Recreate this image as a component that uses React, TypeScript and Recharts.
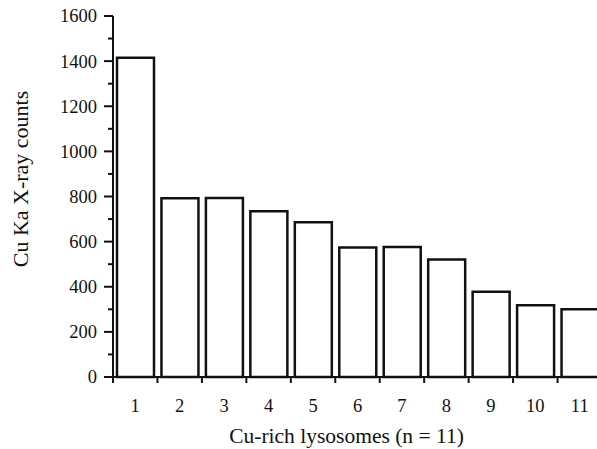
import React from 'react';
import { BarChart, Bar, XAxis, YAxis } from 'recharts';

const lysosomes = ['1', '2', '3', '4', '5', '6', '7', '8', '9', '10', '11'];
const counts = [1415, 792, 793, 735, 686, 574, 576, 521, 378, 318, 300];
const yTicks = [0, 100, 200, 300, 400, 500, 600, 700, 800, 900, 1000, 1100, 1200, 1300, 1400, 1500, 1600];

const data = lysosomes.map((name, i) => ({ name, counts: counts[i] }));

const CHART_W = 602;
const CHART_H = 449;
const Y_AXIS_W = 113;
const BAND = (CHART_W - Y_AXIS_W) / lysosomes.length;
const FONT = '"Liberation Serif", "Times New Roman", serif';

const YTick = (props: any) => {
  const { x, y, payload } = props;
  const major = payload.value % 200 === 0;
  return (
    <g>
      <line x1={x - (major ? 9 : 5)} x2={x} y1={y} y2={y} stroke="#111" strokeWidth={2} />
      {major && (
        <text x={x - 16} y={y} dy="0.35em" textAnchor="end" fontFamily={FONT} fontSize={18.5} fill="#111">
          {payload.value}
        </text>
      )}
    </g>
  );
};

const XTick = (props: any) => {
  const { x, y, payload } = props;
  const bx = x - BAND / 2;
  return (
    <g>
      <line x1={bx} x2={bx} y1={y} y2={y + 6} stroke="#111" strokeWidth={2} />
      <text x={x} y={y + 35} textAnchor="middle" fontFamily={FONT} fontSize={18.5} fill="#111">
        {payload.value}
      </text>
    </g>
  );
};

const XTitle = (props: any) => {
  const vb = props.viewBox;
  return (
    <text x={vb.x + vb.width / 2 - 11} y={443} textAnchor="middle" fontFamily={FONT} fontSize={21.5} fill="#111">
      Cu-rich lysosomes (n = 11)
    </text>
  );
};

const YTitle = () => (
  <text transform="translate(28,179) rotate(-90)" textAnchor="middle" fontFamily={FONT} fontSize={22} fill="#111">
    Cu Ka X-ray counts
  </text>
);

export default function App() {
  return (
    <div style={{ position: 'absolute', left: 0, top: 0, width: 597, height: 449, overflow: 'hidden', background: '#fff' }}>
      <BarChart
        width={CHART_W}
        height={CHART_H}
        data={data}
        margin={{ top: 16, right: 0, bottom: 0, left: 0 }}
      >
        <XAxis
          dataKey="name"
          height={72}
          interval={0}
          tickLine={false}
          tickSize={0}
          tickMargin={0}
          tick={<XTick />}
          axisLine={{ stroke: '#111', strokeWidth: 2 }}
          label={{ content: <XTitle /> }}
        />
        <YAxis
          width={Y_AXIS_W}
          domain={[0, 1600]}
          ticks={yTicks}
          interval={0}
          tickLine={false}
          tickSize={0}
          tickMargin={0}
          tick={<YTick />}
          axisLine={{ stroke: '#111', strokeWidth: 2 }}
          label={{ content: <YTitle /> }}
        />
        <Bar
          dataKey="counts"
          fill="#fff"
          stroke="#111"
          strokeWidth={2.5}
          barSize={37}
          isAnimationActive={false}
        />
      </BarChart>
    </div>
  );
}
